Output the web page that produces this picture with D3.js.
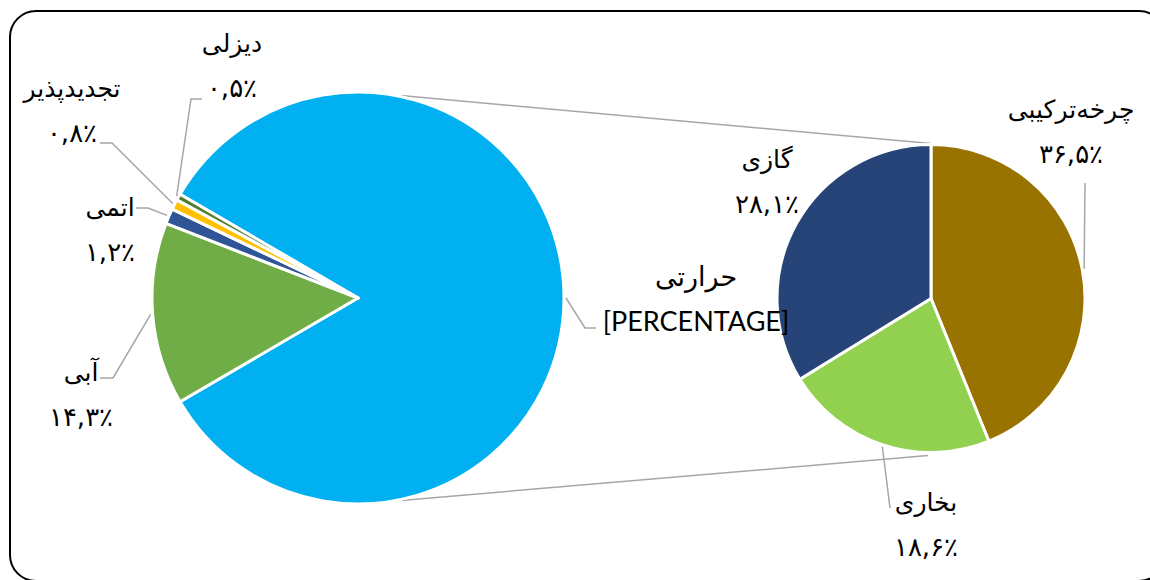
<!DOCTYPE html>
<html>
<head>
<meta charset="utf-8">
<script src="https://cdn.jsdelivr.net/npm/d3@7"></script>
<style>
  html, body { margin: 0; padding: 0; background: #fff; }
  svg { display: block; }
</style>
</head>
<body>
<svg id="chart" width="1150" height="580"></svg>
<script>
// ---- data ----
const mainCategories = ["حرارتی", "آبی", "اتمی", "تجدیدپذیر", "دیزلی"];
const mainValues     = [83.2, 14.3, 1.2, 0.8, 0.5];
const mainColors     = ["#00B0F0", "#70AD47", "#2F5597", "#FFC000", "#4E7E2E"];

const subCategories  = ["چرخه‌ترکیبی", "بخاری", "گازی"];
const subValues      = [36.5, 18.6, 28.1];
const subColors      = ["#997300", "#92D050", "#264478"];

// ---- layout (label anchors & leader elbows, pixels) ----
const mainCenter = [358, 298], mainR = 206;
const subCenter  = [931, 298.5], subR = 154;
const mainLabelLayout = [
  {x: 696, y: 286, elbow: [585, 328], end: [596, 328]},
  {x: 81,  y: 381, elbow: [113, 378], end: [100, 378]},
  {x: 110, y: 216, elbow: [148, 208], end: [136, 208]},
  {x: 72,  y: 97,  elbow: [112, 143], end: [100, 143]},
  {x: 232, y: 52,  elbow: [191, 99],  end: [202, 99]}
];
const subLabelLayout = [
  {x: 1071, y: 118, elbow: [1085, 183], end: null},
  {x: 926,  y: 511, elbow: [890, 508],  end: null},
  {x: 767,  y: 168, elbow: null,        end: null}
];
const lineGap = 45;

const svg = d3.select("#chart");
const persianDigits = "۰۱۲۳۴۵۶۷۸۹";
const fmt = v => v.toFixed(1).replace(".", ",").replace(/[0-9]/g, d => persianDigits[+d]) + "٪";

// frame
svg.append("rect")
  .attr("x", 10).attr("y", 11).attr("width", 1155).attr("height", 570)
  .attr("rx", 26).attr("ry", 26)
  .attr("fill", "none").attr("stroke", "#000").attr("stroke-width", 2);

// ---- pies ----
const mainTotal = d3.sum(mainValues);
const mainStart = Math.PI / 2 - (mainValues[0] / mainTotal) * Math.PI;
const mainPie = d3.pie().sort(null).startAngle(mainStart).endAngle(mainStart + 2 * Math.PI);
const mainArcs = mainPie(mainValues);
const mainArc = d3.arc().innerRadius(0).outerRadius(mainR);

const subPie = d3.pie().sort(null);
const subArcs = subPie(subValues);
const subArc = d3.arc().innerRadius(0).outerRadius(subR);

// connector lines
const pt = (c, r, a) => [c[0] + r * Math.sin(a), c[1] - r * Math.cos(a)];
const connAngleL = 12 * Math.PI / 180;
const conns = [
  [pt(mainCenter, mainR + 1, connAngleL), pt(subCenter, subR + 1, 0)],
  [pt(mainCenter, mainR + 1, Math.PI - connAngleL), pt(subCenter, subR + 3, Math.PI + 0.02)]
];
svg.append("g").selectAll("line").data(conns).join("line")
  .attr("x1", d => d[0][0]).attr("y1", d => d[0][1])
  .attr("x2", d => d[1][0]).attr("y2", d => d[1][1])
  .attr("stroke", "#A6A6A6").attr("stroke-width", 1.5);

const gMain = svg.append("g").attr("transform", `translate(${mainCenter})`);
gMain.selectAll("path").data(mainArcs).join("path")
  .attr("d", mainArc)
  .attr("fill", (d, i) => mainColors[i])
  .attr("stroke", "#fff").attr("stroke-width", 3).attr("stroke-linejoin", "round");

const gSub = svg.append("g").attr("transform", `translate(${subCenter})`);
gSub.selectAll("path").data(subArcs).join("path")
  .attr("d", subArc)
  .attr("fill", (d, i) => subColors[i])
  .attr("stroke", "#fff").attr("stroke-width", 3).attr("stroke-linejoin", "round");

// leaders
const leader = (center, r, arcD, lay) => {
  if (!lay.elbow) return null;
  const a = (arcD.startAngle + arcD.endAngle) / 2;
  const s = pt(center, r, a);
  const pts = [s, lay.elbow];
  if (lay.end) pts.push(lay.end);
  return pts;
};
const leaders = [];
mainArcs.forEach((d, i) => { const l = leader(mainCenter, mainR + 2, d, mainLabelLayout[i]); if (l) leaders.push(l); });
subArcs.forEach((d, i) => { const l = leader(subCenter, subR + 2, d, subLabelLayout[i]); if (l) leaders.push(l); });
svg.append("g").selectAll("path").data(leaders).join("path")
  .attr("d", d => d3.line()(d))
  .attr("fill", "none").attr("stroke", "#A6A6A6").attr("stroke-width", 1.5);

// labels
const arFont = "'DejaVu Sans', sans-serif";
function addLabel(name, value, lay, isPlaceholder) {
  const g = svg.append("g");
  g.append("text")
    .attr("x", lay.x).attr("y", lay.y)
    .attr("text-anchor", "middle")
    .attr("font-family", arFont).attr("font-size", isPlaceholder ? 27 : 25)
    .attr("fill", "#000")
    .text(name);
  g.append("text")
    .attr("x", lay.x).attr("y", lay.y + lineGap)
    .attr("text-anchor", "middle")
    .attr("font-family", isPlaceholder ? "Lato, 'Liberation Sans', sans-serif" : arFont)
    .attr("font-size", isPlaceholder ? 27 : 26)
    .attr("fill", "#000")
    .text(isPlaceholder ? "[PERCENTAGE]" : fmt(value));
}
mainCategories.forEach((c, i) => addLabel(c, mainValues[i], mainLabelLayout[i], i === 0));
subCategories.forEach((c, i) => addLabel(c, subValues[i], subLabelLayout[i], false));
</script>
</body>
</html>
